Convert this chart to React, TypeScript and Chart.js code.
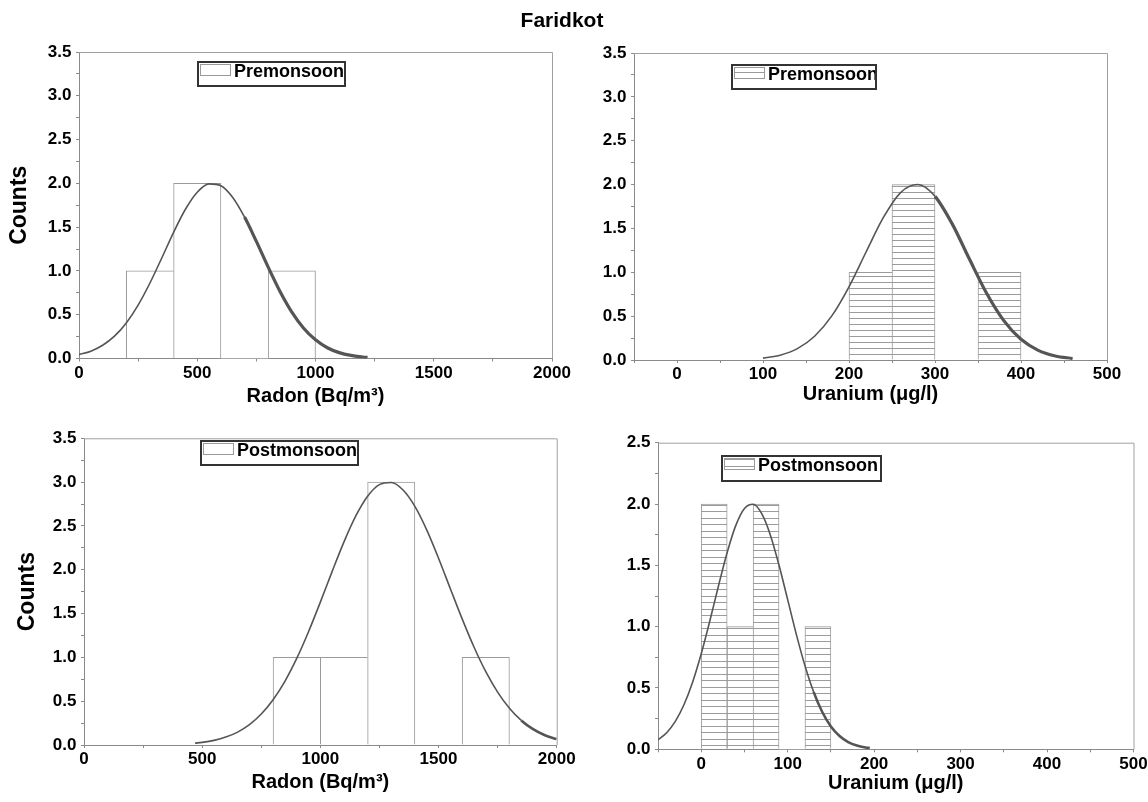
import React, { useEffect, useRef } from "react";
import { Chart, registerables } from "chart.js";

Chart.register(...registerables);

const FONT = '"Liberation Sans", Arial, Helvetica, sans-serif';

// ---------------- data ----------------
// Radon, premonsoon (bins of 200 Bq/m3)
const radonPreBinCenters = [300, 500, 700, 900];
const radonPreCounts = [1, 2, 0, 1];
const radonPreCurveX = [0, 50, 100, 150, 200, 250, 300, 350, 400, 450, 500, 550, 600, 650, 700, 750, 800, 850, 900, 950, 1000, 1050, 1100, 1150, 1200, 1220];
const radonPreCurveY = [0.044, 0.084, 0.151, 0.255, 0.406, 0.61, 0.862, 1.148, 1.441, 1.704, 1.899, 1.994, 1.973, 1.839, 1.615, 1.337, 1.043, 0.766, 0.53, 0.346, 0.213, 0.123, 0.067, 0.035, 0.017, 0.012];

// Uranium, premonsoon (bins of 50 ug/l)
const uraniumPreBinCenters = [225, 275, 325, 375];
const uraniumPreCounts = [1, 2, 0, 1];
const uraniumPreCurveX = [100, 120, 140, 160, 180, 200, 220, 240, 260, 280, 300, 320, 340, 360, 380, 400, 420, 440, 460];
const uraniumPreCurveY = [0.021, 0.055, 0.13, 0.271, 0.503, 0.835, 1.234, 1.625, 1.909, 2.0, 1.866, 1.552, 1.151, 0.761, 0.449, 0.236, 0.11, 0.046, 0.017];

// Radon, postmonsoon (bins of 200 Bq/m3)
const radonPostBinCenters = [900, 1100, 1300, 1500, 1700];
const radonPostCounts = [1, 1, 3, 0, 1];
const radonPostCurveX = [470, 500, 550, 600, 650, 700, 750, 800, 850, 900, 950, 1000, 1050, 1100, 1150, 1200, 1250, 1300, 1350, 1400, 1450, 1500, 1550, 1600, 1650, 1700, 1750, 1800, 1850, 1900, 1950, 2000];
const radonPostCurveY = [0.021, 0.03, 0.053, 0.09, 0.147, 0.232, 0.353, 0.516, 0.727, 0.988, 1.293, 1.63, 1.981, 2.318, 2.614, 2.839, 2.971, 2.996, 2.91, 2.723, 2.455, 2.132, 1.784, 1.439, 1.118, 0.836, 0.603, 0.419, 0.28, 0.181, 0.112, 0.067];

// Uranium, postmonsoon (bins of 30 ug/l)
const uraniumPostBinCenters = [15, 45, 75, 105, 135];
const uraniumPostCounts = [2, 1, 2, 0, 1];
const uraniumPostCurveX = [-50, -40, -30, -20, -10, 0, 10, 20, 30, 40, 50, 60, 70, 80, 90, 100, 110, 120, 130, 140, 150, 160, 170, 180, 190, 195];
const uraniumPostCurveY = [0.076, 0.135, 0.228, 0.363, 0.547, 0.779, 1.048, 1.334, 1.605, 1.826, 1.964, 1.998, 1.921, 1.746, 1.501, 1.22, 0.937, 0.681, 0.468, 0.304, 0.186, 0.108, 0.059, 0.031, 0.015, 0.01];

// tick labels
const radonTickLabels = [0, 500, 1000, 1500, 2000];
const uraniumTickLabels = [0, 100, 200, 300, 400, 500];
const countTicksTo35 = [0, 0.5, 1, 1.5, 2, 2.5, 3, 3.5];
const countTicksTo25 = [0, 0.5, 1, 1.5, 2, 2.5];

const PAGE_TITLE = "Faridkot";
const RADON_TITLE = "Radon (Bq/m³)";
const URANIUM_TITLE = "Uranium (μg/l)";
const COUNTS_TITLE = "Counts";

// ---------------- panel layout ----------------
type PanelSpec = {
  id: string;
  left: number; top: number; width: number; height: number;
  areaLeft: number; areaTop: number; padRight: number; xHeight: number;
  xMin: number; xMax: number; xLabels: number[];
  yMax: number; yLabels: number[];
  centers: number[]; counts: number[]; curveX: number[]; curveY: number[];
  label: string; hatch: number;
  xTitle: string; xTitlePad: number; yTitle: string; yTitlePad: number;
  legend: { dx: number; dy: number; w: number; h: number };
  thickFrom: number; thickWidth: number;
};

const panels: PanelSpec[] = [
  {
    id: "p1", left: 0, top: 30, width: 600, height: 390,
    areaLeft: 79, areaTop: 22, padRight: 48, xHeight: 61.5,
    xMin: 0, xMax: 2000, xLabels: radonTickLabels,
    yMax: 3.5, yLabels: countTicksTo35,
    centers: radonPreBinCenters, counts: radonPreCounts, curveX: radonPreCurveX, curveY: radonPreCurveY,
    label: "Premonsoon", hatch: 0,
    xTitle: RADON_TITLE, xTitlePad: 12, yTitle: COUNTS_TITLE, yTitlePad: 6,
    legend: { dx: 119, dy: 10, w: 147, h: 24 },
    thickFrom: 690, thickWidth: 3.2,
  },
  {
    id: "p2", left: 574, top: 30, width: 620, height: 390,
    areaLeft: 60, areaTop: 23, padRight: 87, xHeight: 60,
    xMin: -50, xMax: 500, xLabels: uraniumTickLabels,
    yMax: 3.5, yLabels: countTicksTo35,
    centers: uraniumPreBinCenters, counts: uraniumPreCounts, curveX: uraniumPreCurveX, curveY: uraniumPreCurveY,
    label: "Premonsoon", hatch: 6,
    xTitle: URANIUM_TITLE, xTitlePad: 14, yTitle: "", yTitlePad: 0,
    legend: { dx: 98, dy: 12, w: 144, h: 24 },
    thickFrom: 290, thickWidth: 3.2,
  },
  {
    id: "p3", left: 0, top: 420, width: 600, height: 382,
    areaLeft: 84, areaTop: 18.3, padRight: 43.3, xHeight: 57,
    xMin: 0, xMax: 2000, xLabels: radonTickLabels,
    yMax: 3.5, yLabels: countTicksTo35,
    centers: radonPostBinCenters, counts: radonPostCounts, curveX: radonPostCurveX, curveY: radonPostCurveY,
    label: "Postmonsoon", hatch: 0,
    xTitle: RADON_TITLE, xTitlePad: 8, yTitle: COUNTS_TITLE, yTitlePad: 14,
    legend: { dx: 117, dy: 2.5, w: 157, h: 24 },
    thickFrom: 1850, thickWidth: 2.6,
  },
  {
    id: "p4", left: 574, top: 420, width: 620, height: 382,
    areaLeft: 84, areaTop: 22.7, padRight: 60.5, xHeight: 52.7,
    xMin: -50, xMax: 500, xLabels: uraniumTickLabels,
    yMax: 2.5, yLabels: countTicksTo25,
    centers: uraniumPostBinCenters, counts: uraniumPostCounts, curveX: uraniumPostCurveX, curveY: uraniumPostCurveY,
    label: "Postmonsoon", hatch: 6.5,
    xTitle: URANIUM_TITLE, xTitlePad: 6.5, yTitle: "", yTitlePad: 0,
    legend: { dx: 64, dy: 13, w: 159, h: 25 },
    thickFrom: 125, thickWidth: 2.6,
  },
];

// major ticks plus one minor tick between each pair (and at the axis minimum)
function withMinor(labels: number[], min: number): number[] {
  const out: number[] = [];
  if (min < labels[0]) out.push(min);
  labels.forEach((v, i) => {
    out.push(v);
    if (i < labels.length - 1) out.push((v + labels[i + 1]) / 2);
  });
  return out;
}

function isLabel(labels: number[], v: number) {
  return labels.some((l) => Math.abs(l - v) < 1e-9);
}

function makeHatch(period: number): CanvasPattern | string {
  const h = Math.round(period * 2);
  const c = document.createElement("canvas");
  c.width = 8;
  c.height = h;
  const g = c.getContext("2d");
  if (!g) return "#fff";
  g.fillStyle = "#ffffff";
  g.fillRect(0, 0, 8, h);
  g.fillStyle = "#9c9c9c";
  g.fillRect(0, 0, 8, 1);
  g.fillRect(0, Math.round(period), 8, 1);
  return g.createPattern(c, "repeat") || "#fff";
}

const framePlugin = {
  id: "frameBox",
  afterDatasetsDraw(chart: any) {
    const { ctx, chartArea } = chart;
    ctx.save();
    ctx.strokeStyle = "#a0a0a0";
    ctx.lineWidth = 1;
    ctx.beginPath();
    ctx.moveTo(chartArea.left, chartArea.top + 0.5);
    ctx.lineTo(chartArea.right + 0.5, chartArea.top + 0.5);
    ctx.lineTo(chartArea.right + 0.5, chartArea.bottom);
    ctx.stroke();
    ctx.restore();
  },
};

const boxLegendPlugin = {
  id: "boxLegend",
  afterDraw(chart: any, _args: any, opts: any) {
    const { ctx, chartArea } = chart;
    const ds = chart.data.datasets[1];
    const x = Math.round(chartArea.left + opts.dx);
    const y = Math.round(chartArea.top + opts.dy);
    ctx.save();
    ctx.fillStyle = "#ffffff";
    ctx.fillRect(x, y, opts.w, opts.h);
    // swatch
    ctx.fillStyle = ds.backgroundColor;
    ctx.fillRect(x + 2, y + 2, 31, 12);
    ctx.strokeStyle = "#9a9a9a";
    ctx.lineWidth = 1;
    ctx.strokeRect(x + 2.5, y + 2.5, 30, 11);
    // text
    ctx.fillStyle = "#000";
    ctx.font = `bold 18px ${FONT}`;
    ctx.textBaseline = "alphabetic";
    ctx.textAlign = "left";
    ctx.fillText(ds.label, x + 36, y + 14.5);
    // border
    ctx.strokeStyle = "#333";
    ctx.lineWidth = 2;
    ctx.strokeRect(x, y, opts.w, opts.h);
    ctx.restore();
  },
};

function buildConfig(s: PanelSpec): any {
  const barData = s.centers.map((x, i) => ({ x, y: s.counts[i] }));
  const lineData = s.curveX.map((x, i) => ({ x, y: s.curveY[i] }));
  const fill = s.hatch > 0 ? makeHatch(s.hatch) : "#ffffff";
  const tickFont = { family: FONT, size: 17, weight: "bold" as const };

  return {
    type: "bar",
    data: {
      datasets: [
        {
          type: "line",
          label: "Normal fit",
          data: lineData,
          borderColor: "#555555",
          borderWidth: 1.6,
          pointRadius: 0,
          cubicInterpolationMode: "monotone",
          fill: false,
          order: 0,
          segment: {
            borderWidth: (c: any) => (c.p0.parsed.x >= s.thickFrom ? s.thickWidth : 1.6),
          },
        },
        {
          type: "bar",
          label: s.label,
          data: barData,
          backgroundColor: fill,
          borderColor: "#9a9a9a",
          borderSkipped: false,
          borderWidth: (c: any) => {
            const i = c.dataIndex;
            const v = s.counts[i];
            if (!v) return 0;
            const next = s.counts[i + 1] ?? 0;
            return { left: 1, top: 1, right: next < v ? 1 : 0, bottom: 0 };
          },
          barPercentage: 1,
          categoryPercentage: 1,
          order: 1,
        },
      ],
    },
    options: {
      responsive: false,
      animation: false,
      layout: { padding: { left: 0, top: s.areaTop, right: s.padRight, bottom: 0 } },
      plugins: {
        legend: { display: false },
        tooltip: { enabled: false },
        boxLegend: s.legend,
      },
      scales: {
        x: {
          type: "linear",
          position: "bottom",
          min: s.xMin,
          max: s.xMax,
          offset: false,
          afterBuildTicks: (sc: any) => {
            sc.ticks = withMinor(s.xLabels, s.xMin).map((v) => ({ value: v }));
          },
          afterFit: (sc: any) => {
            sc.height = s.xHeight;
          },
          ticks: {
            autoSkip: false,
            maxRotation: 0,
            minRotation: 0,
            padding: 1.5,
            color: "#000",
            font: tickFont,
            callback: (v: any) => (isLabel(s.xLabels, Number(v)) ? String(v) : ""),
          },
          grid: {
            offset: false,
            drawOnChartArea: false,
            drawTicks: true,
            tickLength: 3,
            tickColor: "#8a8a8a",
          },
          border: { display: true, color: "#8a8a8a", width: 1 },
          title: {
            display: true,
            text: s.xTitle,
            color: "#000",
            font: { family: FONT, size: 20, weight: "bold" },
            padding: { top: 0, bottom: s.xTitlePad },
          },
        },
        y: {
          type: "linear",
          position: "left",
          min: 0,
          max: s.yMax,
          afterBuildTicks: (sc: any) => {
            sc.ticks = withMinor(s.yLabels, 0).map((v) => ({ value: v }));
          },
          afterFit: (sc: any) => {
            sc.width = s.areaLeft;
          },
          ticks: {
            autoSkip: false,
            padding: 4.5,
            color: "#000",
            font: tickFont,
            callback: (v: any) => (isLabel(s.yLabels, Number(v)) ? Number(v).toFixed(1) : ""),
          },
          grid: {
            drawOnChartArea: false,
            drawTicks: true,
            tickLength: 3,
            tickColor: "#8a8a8a",
          },
          border: { display: true, color: "#8a8a8a", width: 1 },
          title: {
            display: !!s.yTitle,
            text: s.yTitle,
            color: "#000",
            font: { family: FONT, size: 23, weight: "bold" },
            padding: { top: s.yTitlePad, bottom: 0 },
          },
        },
      },
    },
    plugins: [framePlugin, boxLegendPlugin],
  };
}

function Panel({ spec }: { spec: PanelSpec }) {
  const ref = useRef<HTMLCanvasElement | null>(null);
  useEffect(() => {
    const canvas = ref.current;
    if (!canvas) return;
    const chart = new Chart(canvas, buildConfig(spec));
    return () => chart.destroy();
  }, [spec]);
  return (
    <canvas
      ref={ref}
      width={spec.width}
      height={spec.height}
      style={{ position: "absolute", left: spec.left, top: spec.top, width: spec.width, height: spec.height }}
    />
  );
}

export default function App() {
  return (
    <div
      style={{
        position: "absolute",
        left: 0,
        top: 0,
        width: 1148,
        height: 802,
        overflow: "hidden",
        background: "#ffffff",
      }}
    >
      {panels.map((p) => (
        <Panel key={p.id} spec={p} />
      ))}
      <div
        style={{
          position: "absolute",
          left: 0,
          top: 8,
          width: 1124,
          textAlign: "center",
          fontFamily: FONT,
          fontWeight: "bold",
          fontSize: 21,
          lineHeight: "24px",
          color: "#000",
        }}
      >
        {PAGE_TITLE}
      </div>
    </div>
  );
}
